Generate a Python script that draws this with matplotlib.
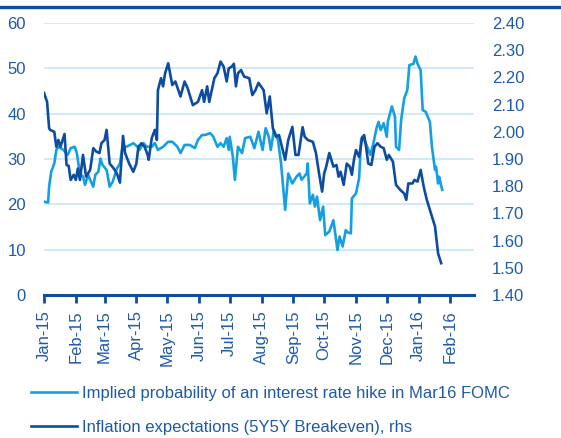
import pandas as pd
import matplotlib
matplotlib.use("Agg")
import matplotlib.pyplot as plt
import matplotlib.dates as mdates
from matplotlib.lines import Line2D

# implied probability of a hike (lhs)
prob_dates = ["2015-01-01", "2015-01-05", "2015-01-06", "2015-01-08", "2015-01-11", "2015-01-13",
              "2015-01-15", "2015-01-20", "2015-01-24", "2015-01-27", "2015-01-31", "2015-02-02",
              "2015-02-05", "2015-02-08", "2015-02-10", "2015-02-13", "2015-02-15", "2015-02-18",
              "2015-02-20", "2015-02-23", "2015-02-25", "2015-02-27", "2015-03-03", "2015-03-06",
              "2015-03-09", "2015-03-13", "2015-03-16", "2015-03-18", "2015-03-22", "2015-03-26",
              "2015-03-29", "2015-04-02", "2015-04-04", "2015-04-08", "2015-04-11", "2015-04-16",
              "2015-04-19", "2015-04-22", "2015-04-27", "2015-05-02", "2015-05-06", "2015-05-11",
              "2015-05-14", "2015-05-18", "2015-05-23", "2015-05-28", "2015-05-31", "2015-06-04",
              "2015-06-07", "2015-06-12", "2015-06-15", "2015-06-19", "2015-06-22", "2015-06-25",
              "2015-06-28", "2015-06-30", "2015-07-01", "2015-07-04", "2015-07-06", "2015-07-09",
              "2015-07-13", "2015-07-16", "2015-07-21", "2015-07-25", "2015-07-29", "2015-08-02",
              "2015-08-05", "2015-08-08", "2015-08-10", "2015-08-13", "2015-08-17", "2015-08-20",
              "2015-08-24", "2015-08-27", "2015-08-31", "2015-09-04", "2015-09-07", "2015-09-09",
              "2015-09-14", "2015-09-15", "2015-09-17", "2015-09-20", "2015-09-22", "2015-09-24",
              "2015-09-27", "2015-09-30", "2015-10-02", "2015-10-06", "2015-10-10", "2015-10-14",
              "2015-10-16", "2015-10-19", "2015-10-22", "2015-10-24", "2015-10-27", "2015-10-28",
              "2015-11-01", "2015-11-04", "2015-11-06", "2015-11-07", "2015-11-10", "2015-11-15",
              "2015-11-18", "2015-11-21", "2015-11-23", "2015-11-25", "2015-11-28", "2015-12-01",
              "2015-12-02", "2015-12-06", "2015-12-09", "2015-12-10", "2015-12-13", "2015-12-15",
              "2015-12-18", "2015-12-21", "2015-12-23", "2015-12-27", "2015-12-29", "2015-12-31",
              "2016-01-03", "2016-01-05", "2016-01-08", "2016-01-12", "2016-01-14", "2016-01-17",
              "2016-01-18", "2016-01-20", "2016-01-21", "2016-01-24"]
prob_values = [20.6, 20.4, 23.9, 27.2, 29.0, 32.0,
               32.7, 32.0, 30.9, 32.4, 32.7, 31.3,
               26.8, 26.1, 24.3, 26.5, 25.4, 23.9,
               26.5, 27.2, 30.1, 28.7, 27.6, 23.9,
               25.0, 27.9, 29.0, 32.0, 32.7, 33.1,
               33.5, 32.7, 32.0, 33.5, 32.7, 32.7,
               33.5, 32.0, 32.7, 33.8, 33.8, 32.7,
               31.3, 33.1, 33.1, 32.4, 34.2, 35.3,
               35.3, 35.7, 34.9, 32.7, 33.5, 32.7,
               34.6, 32.0, 34.9, 30.5, 25.4, 32.7,
               31.3, 34.6, 34.9, 32.4, 36.0, 32.0,
               36.8, 34.9, 32.0, 36.4, 34.2, 29.0,
               18.8, 26.8, 24.6, 26.1, 26.8, 25.4,
               26.8, 29.0, 20.2, 22.1, 19.5, 21.7,
               16.5, 19.5, 13.2, 14.0, 16.5, 9.9,
               12.9, 10.7, 14.3, 13.8, 13.6, 21.3,
               22.4, 25.7, 34.2, 34.9, 33.8, 30.9,
               33.5, 36.8, 38.2, 36.4, 37.9, 34.9,
               38.2, 41.6, 39.3, 32.7, 32.0, 38.6,
               43.4, 45.2, 50.7, 51.0, 52.6, 51.0,
               49.6, 40.8, 40.4, 38.2, 32.7, 27.6,
               28.3, 24.6, 26.1, 23.2]

# 5y5y breakeven inflation (rhs)
infl_dates = ["2015-01-01", "2015-01-04", "2015-01-06", "2015-01-07", "2015-01-11", "2015-01-13",
              "2015-01-15", "2015-01-17", "2015-01-21", "2015-01-23", "2015-01-25", "2015-01-27",
              "2015-01-30", "2015-02-01", "2015-02-03", "2015-02-05", "2015-02-08", "2015-02-11",
              "2015-02-15", "2015-02-18", "2015-02-21", "2015-02-24", "2015-02-26", "2015-03-01",
              "2015-03-03", "2015-03-06", "2015-03-10", "2015-03-13", "2015-03-16", "2015-03-19",
              "2015-03-21", "2015-03-25", "2015-03-29", "2015-04-01", "2015-04-03", "2015-04-06",
              "2015-04-09", "2015-04-12", "2015-04-13", "2015-04-16", "2015-04-19", "2015-04-21",
              "2015-04-22", "2015-04-25", "2015-04-27", "2015-04-29", "2015-05-02", "2015-05-06",
              "2015-05-09", "2015-05-14", "2015-05-18", "2015-05-21", "2015-05-26", "2015-05-31",
              "2015-06-04", "2015-06-06", "2015-06-09", "2015-06-11", "2015-06-16", "2015-06-19",
              "2015-06-22", "2015-06-25", "2015-06-28", "2015-06-30", "2015-07-03", "2015-07-05",
              "2015-07-07", "2015-07-09", "2015-07-12", "2015-07-15", "2015-07-20", "2015-07-23",
              "2015-07-26", "2015-07-29", "2015-08-03", "2015-08-06", "2015-08-09", "2015-08-12",
              "2015-08-15", "2015-08-18", "2015-08-20", "2015-08-24", "2015-08-27", "2015-08-31",
              "2015-09-03", "2015-09-06", "2015-09-10", "2015-09-12", "2015-09-15", "2015-09-20",
              "2015-09-23", "2015-09-26", "2015-09-29", "2015-10-01", "2015-10-03", "2015-10-06",
              "2015-10-10", "2015-10-13", "2015-10-15", "2015-10-17", "2015-10-20", "2015-10-23",
              "2015-10-26", "2015-10-28", "2015-10-30", "2015-11-01", "2015-11-04", "2015-11-07",
              "2015-11-09", "2015-11-11", "2015-11-13", "2015-11-16", "2015-11-19", "2015-11-22",
              "2015-11-25", "2015-11-28", "2015-12-01", "2015-12-03", "2015-12-07", "2015-12-10",
              "2015-12-14", "2015-12-18", "2015-12-20", "2015-12-22", "2015-12-26", "2015-12-28",
              "2015-12-31", "2016-01-03", "2016-01-06", "2016-01-09", "2016-01-12", "2016-01-17",
              "2016-01-20", "2016-01-23"]
infl_values = [2.143, 2.110, 2.013, 2.007, 2.000, 1.945,
               1.970, 1.945, 1.992, 1.878, 1.875, 1.823,
               1.842, 1.823, 1.865, 1.823, 1.915, 1.835,
               1.860, 1.940, 1.927, 1.922, 1.958, 1.970,
               2.007, 1.883, 1.865, 1.847, 1.813, 1.985,
               1.922, 1.883, 1.853, 1.883, 1.945, 1.958,
               1.945, 1.915, 1.897, 1.977, 2.007, 1.970,
               2.153, 2.197, 2.167, 2.215, 2.252, 2.172,
               2.185, 2.130, 2.185, 2.160, 2.098, 2.110,
               2.153, 2.110, 2.167, 2.110, 2.197, 2.215,
               2.258, 2.240, 2.185, 2.233, 2.240, 2.250,
               2.167, 2.215, 2.227, 2.203, 2.197, 2.135,
               2.153, 2.180, 2.153, 2.068, 2.130, 2.013,
               1.982, 1.988, 1.958, 1.897, 1.970, 2.018,
               1.915, 1.915, 2.017, 1.982, 1.970, 1.963,
               1.922, 1.847, 1.780, 1.847, 1.872, 1.922,
               1.872, 1.878, 1.835, 1.853, 1.805, 1.883,
               1.872, 1.842, 1.897, 1.933, 1.908, 1.977,
               1.988, 1.940, 1.883, 1.878, 1.945, 1.958,
               1.945, 1.940, 1.897, 1.915, 1.890, 1.805,
               1.787, 1.773, 1.750, 1.810, 1.810, 1.823,
               1.817, 1.860, 1.798, 1.750, 1.713, 1.652,
               1.553, 1.517]

prob_label = "Implied probability of an interest rate hike in Mar16 FOMC"
infl_label = "Inflation expectations (5Y5Y Breakeven), rhs"

light = "#14A0E0"
dark = "#0D4C9E"
text_col = "#1E5AA8"
grid_col = "#CBE9F7"

plt.rcParams["font.family"] = ["Liberation Sans", "DejaVu Sans"]

fig = plt.figure(figsize=(5.61, 4.38), dpi=100)
ax = fig.add_axes([44 / 561, 1 - 295 / 438, 430 / 561, 272 / 438])
ax2 = ax.twinx()

ax.plot(pd.to_datetime(prob_dates), prob_values, color=light, lw=1.9, solid_joinstyle="round")
ax2.plot(pd.to_datetime(infl_dates), infl_values, color=dark, lw=1.9, solid_joinstyle="round")

ax.set_ylim(0, 60)
ax.set_yticks(range(0, 61, 10))
ax2.set_ylim(1.40, 2.40)
ax2.set_yticks([1.4 + 0.1 * i for i in range(11)])
ax2.yaxis.set_major_formatter(plt.FormatStrFormatter("%.2f"))

ax.set_xlim(pd.Timestamp("2015-01-01"), pd.Timestamp("2016-02-24"))
ax.xaxis.set_major_locator(mdates.MonthLocator())
ax.xaxis.set_major_formatter(mdates.DateFormatter("%b-%y"))

for y in range(10, 61, 10):
    ax.axhline(y, color=grid_col, lw=1.3, zorder=0)

for a in (ax, ax2):
    for s in a.spines.values():
        s.set_visible(False)
ax.spines["bottom"].set_visible(True)
ax.spines["bottom"].set_color(dark)
ax.spines["bottom"].set_linewidth(2.2)

fs = 12
ax.tick_params(axis="x", colors=dark, length=6, width=2, rotation=90, pad=5,
               labelsize=fs, labelcolor=text_col)
ax.tick_params(axis="y", length=0, pad=13, labelsize=fs, labelcolor=text_col)
ax2.tick_params(axis="y", length=0, pad=13, labelsize=fs, labelcolor=text_col)

# dark rule at the top
fig.add_artist(Line2D([0, 1], [1 - 7 / 438, 1 - 7 / 438], color=dark, lw=2.4))

handles = [Line2D([], [], color=light, lw=1.9), Line2D([], [], color=dark, lw=1.9)]
fig.legend(handles, [prob_label, infl_label], loc="upper left",
           bbox_to_anchor=(24 / 561, 1 - 379 / 438), frameon=False,
           fontsize=fs, labelcolor=text_col, handlelength=2.8,
           handletextpad=0.3, labelspacing=1.15, borderaxespad=0)

fig.savefig("out.png", dpi=100)
